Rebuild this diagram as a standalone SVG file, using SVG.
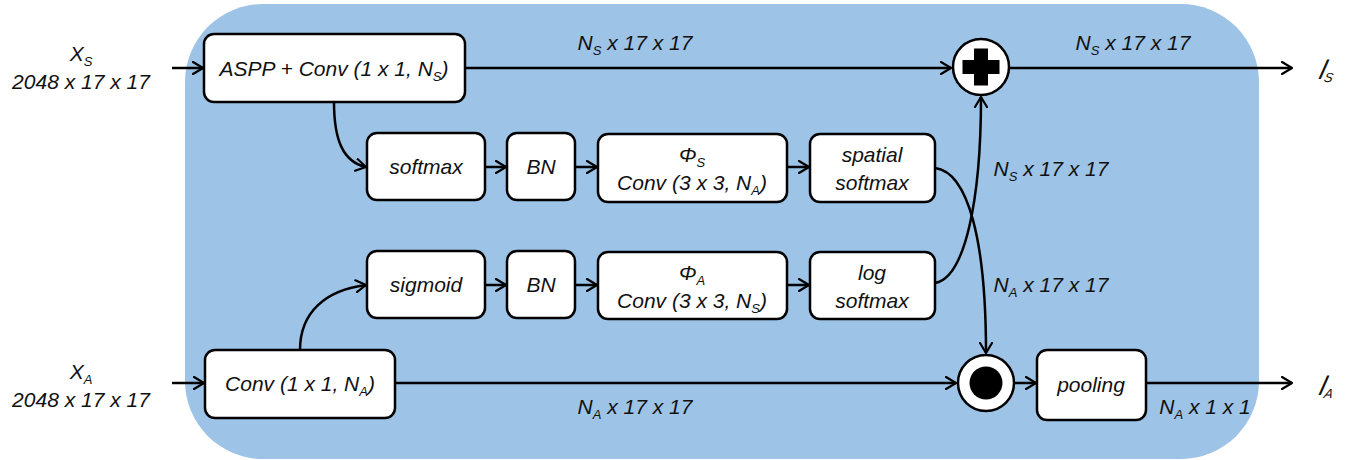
<svg xmlns="http://www.w3.org/2000/svg" width="1348" height="460" viewBox="0 0 1348 460">
  <defs>
    <marker id="arr" viewBox="0 0 12 14" refX="11" refY="7" markerWidth="12" markerHeight="14" markerUnits="userSpaceOnUse" orient="auto">
      <path d="M1,1 L11,7 L1,13" fill="none" stroke="#000" stroke-width="2.2" stroke-linecap="round" stroke-linejoin="round"/>
    </marker>
  </defs>
  <style>
    text { font-family: "Liberation Sans", Arial, sans-serif; font-style: italic; font-size: 21px; fill: #111; }
    .box { fill: #fff; stroke: #000; stroke-width: 2.5; }
    .wire { fill: none; stroke: #000; stroke-width: 2.5; marker-end: url(#arr); }
    .sub { font-size: 13px; }
    .out { font-size: 27px; font-weight: 300; }
  </style>

  <!-- module background -->
  <rect x="185" y="4" width="1074" height="455" rx="78" ry="78" fill="#9dc3e6"/>

  <!-- connectors -->
  <g id="connectors">
    <path class="wire" d="M172,68 L203,68"/>
    <path class="wire" d="M172,383 L204,383"/>
    <path class="wire" d="M465,68 L951,68"/>
    <path class="wire" d="M1010,68 L1292,68"/>
    <path class="wire" d="M334,102 C334,140 343,162 366,167"/>
    <path class="wire" d="M485,167 L506,167"/>
    <path class="wire" d="M575,167 L597,167"/>
    <path class="wire" d="M787,167 L809,167"/>
    <path class="wire" d="M300,350 C300,312 326,290 366,285"/>
    <path class="wire" d="M485,285 L506,285"/>
    <path class="wire" d="M575,285 L597,285"/>
    <path class="wire" d="M787,285 L809,285"/>
    <path class="wire" d="M935,168 C968,172 986,240 986,353"/>
    <path class="wire" d="M935,283 C965,278 981,200 981,97"/>
    <path class="wire" d="M395,383 L956,383"/>
    <path class="wire" d="M1015,383 L1036,383"/>
    <path class="wire" d="M1146,383 L1292,383"/>
  </g>

  <!-- inputs -->
  <g id="input-s">
    <text x="81" y="61" text-anchor="middle">X<tspan class="sub" dy="5">S</tspan></text>
    <text x="81" y="89" text-anchor="middle">2048 x 17 x 17</text>
  </g>
  <g id="input-a">
    <text x="81" y="379" text-anchor="middle">X<tspan class="sub" dy="5">A</tspan></text>
    <text x="81" y="407" text-anchor="middle">2048 x 17 x 17</text>
  </g>

  <!-- nodes -->
  <g id="aspp">
    <rect class="box" x="204" y="34" width="261" height="68" rx="10"/>
    <text x="334" y="76" text-anchor="middle">ASPP + Conv (1 x 1, N<tspan class="sub" dy="5">S</tspan><tspan dy="-5">)</tspan></text>
  </g>
  <g id="softmax">
    <rect class="box" x="367" y="133" width="118" height="67" rx="10"/>
    <text x="426" y="174" text-anchor="middle">softmax</text>
  </g>
  <g id="bn-s">
    <rect class="box" x="507" y="133" width="68" height="67" rx="10"/>
    <text x="541" y="174" text-anchor="middle">BN</text>
  </g>
  <g id="phi-s">
    <rect class="box" x="598" y="134" width="189" height="68" rx="10"/>
    <text x="692" y="162" text-anchor="middle">Φ<tspan class="sub" dy="5">S</tspan></text>
    <text x="692" y="190" text-anchor="middle">Conv (3 x 3, N<tspan class="sub" dy="5">A</tspan><tspan dy="-5">)</tspan></text>
  </g>
  <g id="spatial-softmax">
    <rect class="box" x="810" y="134" width="125" height="68" rx="10"/>
    <text x="872" y="162" text-anchor="middle">spatial</text>
    <text x="872" y="190" text-anchor="middle">softmax</text>
  </g>
  <g id="sigmoid">
    <rect class="box" x="367" y="251" width="118" height="67" rx="10"/>
    <text x="426" y="292" text-anchor="middle">sigmoid</text>
  </g>
  <g id="bn-a">
    <rect class="box" x="507" y="251" width="68" height="67" rx="10"/>
    <text x="541" y="292" text-anchor="middle">BN</text>
  </g>
  <g id="phi-a">
    <rect class="box" x="598" y="252" width="189" height="67" rx="10"/>
    <text x="692" y="280" text-anchor="middle">Φ<tspan class="sub" dy="5">A</tspan></text>
    <text x="692" y="308" text-anchor="middle">Conv (3 x 3, N<tspan class="sub" dy="5">S</tspan><tspan dy="-5">)</tspan></text>
  </g>
  <g id="log-softmax">
    <rect class="box" x="810" y="252" width="125" height="67" rx="10"/>
    <text x="872" y="280" text-anchor="middle">log</text>
    <text x="872" y="308" text-anchor="middle">softmax</text>
  </g>
  <g id="conv-a">
    <rect class="box" x="205" y="350" width="190" height="68" rx="10"/>
    <text x="300" y="391" text-anchor="middle">Conv (1 x 1, N<tspan class="sub" dy="5">A</tspan><tspan dy="-5">)</tspan></text>
  </g>
  <g id="add">
    <circle cx="981" cy="67" r="28" fill="#fff" stroke="#000" stroke-width="2.5"/>
    <path d="M974,48.5 h14 v11.5 h11.5 v14 h-11.5 v11.5 h-14 v-11.5 h-11.5 v-14 h11.5 z" fill="#000"/>
  </g>
  <g id="multiply">
    <circle cx="986" cy="383" r="28" fill="#fff" stroke="#000" stroke-width="2.5"/>
    <circle cx="986" cy="383" r="16.5" fill="#000"/>
  </g>
  <g id="pooling">
    <rect class="box" x="1037" y="350" width="109" height="70" rx="10"/>
    <text x="1091" y="392" text-anchor="middle">pooling</text>
  </g>

  <!-- outputs -->
  <g id="output-s">
    <text class="out" transform="translate(1318,79) skewX(-14)">l<tspan class="sub" dy="3">S</tspan></text>
  </g>
  <g id="output-a">
    <text class="out" transform="translate(1318,395) skewX(-14)">l<tspan class="sub" dy="3">A</tspan></text>
  </g>

  <!-- tensor size labels -->
  <g id="labels">
    <text x="635" y="50" text-anchor="middle">N<tspan class="sub" dy="5">S</tspan><tspan dy="-5"> x 17 x 17</tspan></text>
    <text x="1133" y="50" text-anchor="middle">N<tspan class="sub" dy="5">S</tspan><tspan dy="-5"> x 17 x 17</tspan></text>
    <text x="1051" y="176" text-anchor="middle">N<tspan class="sub" dy="5">S</tspan><tspan dy="-5"> x 17 x 17</tspan></text>
    <text x="1051" y="292" text-anchor="middle">N<tspan class="sub" dy="5">A</tspan><tspan dy="-5"> x 17 x 17</tspan></text>
    <text x="635" y="414" text-anchor="middle">N<tspan class="sub" dy="5">A</tspan><tspan dy="-5"> x 17 x 17</tspan></text>
    <text x="1205" y="414" text-anchor="middle">N<tspan class="sub" dy="5">A</tspan><tspan dy="-5"> x 1 x 1</tspan></text>
  </g>
</svg>
